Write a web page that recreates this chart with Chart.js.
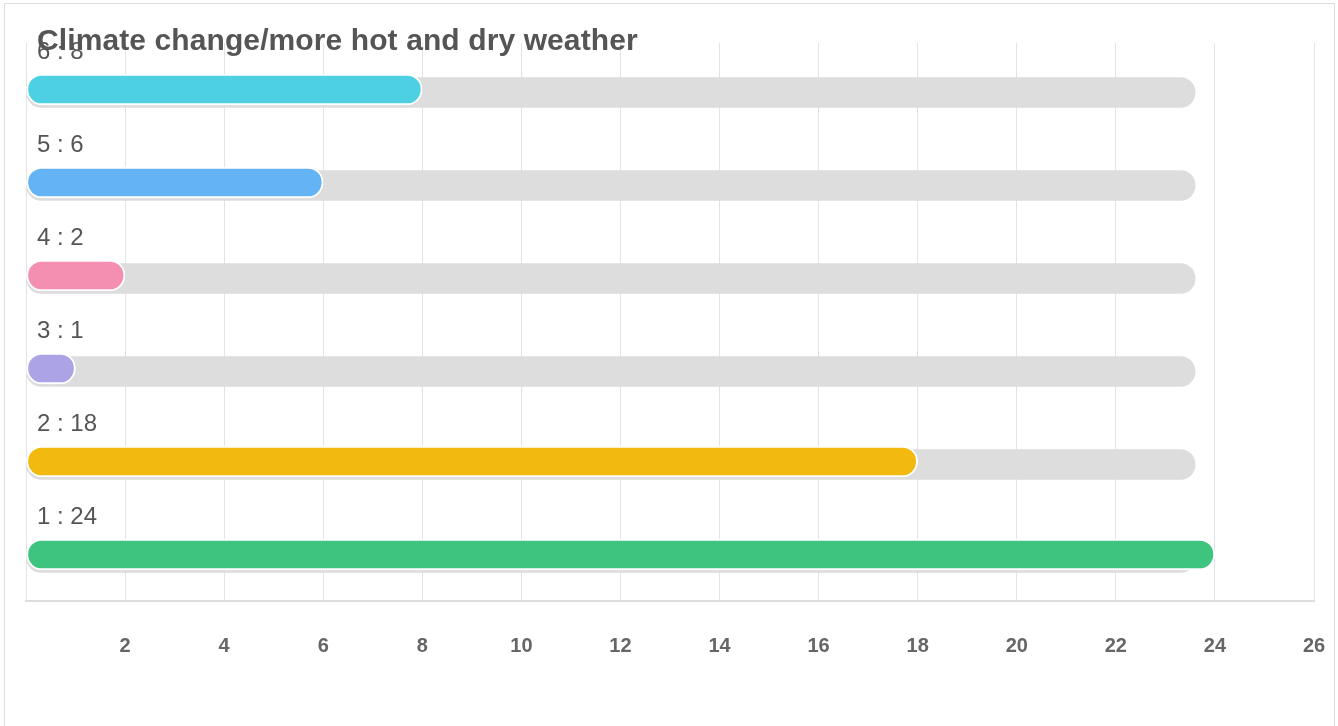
<!DOCTYPE html>
<html>
<head>
<meta charset="utf-8">
<script src="https://cdn.jsdelivr.net/npm/chart.js"></script>
<style>
  html, body { margin: 0; padding: 0; background: #fff; }
  #wrap { position: relative; width: 1338px; height: 726px; overflow: hidden; }
  #frame { position: absolute; left: 4px; top: 3px; width: 1331px; height: 740px; border: 1px solid #dddddd; box-sizing: border-box; }
  #title {
    position: absolute; left: 37px; top: 23px; z-index: 2;
    font-family: "Liberation Sans", Arial, sans-serif; font-weight: bold;
    font-size: 30px; line-height: 34px; color: #555555; letter-spacing: 0.1px;
  }
  #chart { position: absolute; left: 0; top: 0; }
</style>
</head>
<body>
<div id="wrap">
  <div id="frame"></div>
  <div id="title">Climate change/more hot and dry weather</div>
  <canvas id="chart" width="1338" height="726"></canvas>
</div>
<script>
// categories, top to bottom
const categories = ['6', '5', '4', '3', '2', '1'];
const values = [8, 6, 2, 1, 18, 24];
const trackValues = [23.6, 23.6, 23.6, 23.6, 23.6, 23.6];
const barColors = ['#4dd0e1', '#63b3f5', '#f48fb1', '#aba3e6', '#f2b90f', '#3ec47f'];
const tickValues = [2, 4, 6, 8, 10, 12, 14, 16, 18, 20, 22, 24, 26];

// shift the grey track a few pixels down, like the original
const trackShift = {
    id: 'trackShift',
    beforeDatasetDraw(chart, args) {
        if (args.index === 1) {
            chart.ctx.save();
            chart.ctx.translate(0, 3);
        }
    },
    afterDatasetDraw(chart, args) {
        if (args.index === 1) chart.ctx.restore();
    }
};

// "6 : 8" style labels above each bar
const rowLabels = {
    id: 'rowLabels',
    afterDatasetsDraw(chart) {
        const ctx = chart.ctx;
        const meta = chart.getDatasetMeta(0);
        ctx.save();
        ctx.font = '24px "Liberation Sans", Arial, sans-serif';
        ctx.fillStyle = '#555555';
        ctx.textBaseline = 'middle';
        ctx.textAlign = 'left';
        meta.data.forEach((bar, i) => {
            ctx.fillText(categories[i] + ' : ' + values[i], 37, bar.y - 37);
        });
        ctx.restore();
    }
};

const ctx = document.getElementById('chart').getContext('2d');
new Chart(ctx, {
    type: 'bar',
    data: {
        labels: categories,
        datasets: [
            {
                data: values,
                backgroundColor: barColors,
                borderColor: '#ffffff',
                borderWidth: 2,
                borderRadius: 16,
                borderSkipped: false,
                barThickness: 31,
                grouped: false,
                order: 0
            },
            {
                data: trackValues,
                backgroundColor: '#dddddd',
                borderWidth: 0,
                borderRadius: 15,
                borderSkipped: false,
                barThickness: 30,
                grouped: false,
                order: 1
            }
        ]
    },
    options: {
        indexAxis: 'y',
        responsive: false,
        animation: false,
        layout: { padding: { left: 26, right: 24, top: 43, bottom: 65 } },
        plugins: {
            legend: { display: false },
            tooltip: { enabled: false },
            title: { display: false }
        },
        scales: {
            y: {
                display: false
            },
            x: {
                min: 0,
                max: 26,
                afterBuildTicks(scale) {
                    scale.ticks = [{ value: 0 }].concat(tickValues.map(v => ({ value: v })));
                },
                afterFit(scale) {
                    scale.paddingLeft = 0;
                    scale.paddingRight = 0;
                    scale.height = 60;
                },
                grid: { color: '#e3e3e3', lineWidth: 1, drawTicks: false },
                border: { color: '#dddddd', width: 2 },
                ticks: {
                    padding: 33,
                    color: '#666666',
                    font: { family: '"Liberation Sans", Arial, sans-serif', size: 20, weight: 'bold' },
                    callback: v => (v === 0 ? '' : v)
                }
            }
        }
    },
    plugins: [trackShift, rowLabels]
});
</script>
</body>
</html>
